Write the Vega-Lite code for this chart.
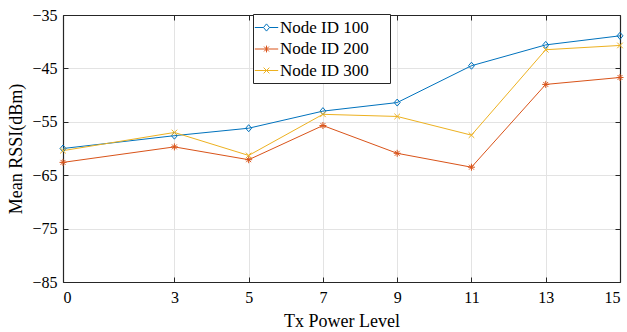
{
  "$schema": "https://vega.github.io/schema/vega-lite/v6.json",
  "width": 557,
  "height": 267,
  "autosize": "none",
  "padding": {"left": 63, "top": 15, "right": 7, "bottom": 50},
  "config": {
    "font": "Liberation Serif",
    "view": {"stroke": null},
    "axis": {
      "labelFont": "Liberation Serif",
      "titleFont": "Liberation Serif",
      "labelColor": "#000000",
      "titleColor": "#000000",
      "labelFontSize": 16,
      "titleFontSize": 18,
      "titleFontWeight": "normal",
      "domainColor": "#262626",
      "tickColor": "#262626",
      "domainWidth": 1.2,
      "gridColor": "#e3e3e3",
      "gridWidth": 1
    }
  },
  "datasets": {
    "rssi": [
      {"level": 0, "node": "Node ID 100", "rssi": -60.0},
      {"level": 3, "node": "Node ID 100", "rssi": -57.6},
      {"level": 5, "node": "Node ID 100", "rssi": -56.2},
      {"level": 7, "node": "Node ID 100", "rssi": -53.0},
      {"level": 9, "node": "Node ID 100", "rssi": -51.4},
      {"level": 11, "node": "Node ID 100", "rssi": -44.5},
      {"level": 13, "node": "Node ID 100", "rssi": -40.6},
      {"level": 15, "node": "Node ID 100", "rssi": -38.9},
      {"level": 0, "node": "Node ID 200", "rssi": -62.6},
      {"level": 3, "node": "Node ID 200", "rssi": -59.7},
      {"level": 5, "node": "Node ID 200", "rssi": -62.1},
      {"level": 7, "node": "Node ID 200", "rssi": -55.7},
      {"level": 9, "node": "Node ID 200", "rssi": -60.9},
      {"level": 11, "node": "Node ID 200", "rssi": -63.5},
      {"level": 13, "node": "Node ID 200", "rssi": -48.0},
      {"level": 15, "node": "Node ID 200", "rssi": -46.7},
      {"level": 0, "node": "Node ID 300", "rssi": -60.4},
      {"level": 3, "node": "Node ID 300", "rssi": -57.0},
      {"level": 5, "node": "Node ID 300", "rssi": -61.3},
      {"level": 7, "node": "Node ID 300", "rssi": -53.6},
      {"level": 9, "node": "Node ID 300", "rssi": -54.0},
      {"level": 11, "node": "Node ID 300", "rssi": -57.5},
      {"level": 13, "node": "Node ID 300", "rssi": -41.5},
      {"level": 15, "node": "Node ID 300", "rssi": -40.7}
    ]
  },
  "data": {"name": "rssi"},
  "resolve": {"axis": {"x": "independent", "y": "independent"}},
  "layer": [
    {
      "mark": {"type": "line", "strokeWidth": 1},
      "encoding": {
        "x": {
          "field": "level", "type": "quantitative",
          "scale": {"domain": [0, 15], "nice": false, "zero": false},
          "axis": {
            "title": "Tx Power Level",
            "values": [0, 3, 5, 7, 9, 11, 13, 15],
            "tickSize": -5,
            "labelPadding": 12,
            "titlePadding": 7,
            "grid": true
          }
        },
        "y": {
          "field": "rssi", "type": "quantitative",
          "scale": {"domain": [-85, -35], "nice": false, "zero": false},
          "axis": {
            "title": "Mean RSSI(dBm)",
            "values": [-85, -75, -65, -55, -45, -35],
            "tickSize": -5,
            "labelPadding": 11,
            "titlePadding": 6,
            "grid": true
          }
        },
        "color": {
          "field": "node", "type": "nominal",
          "scale": {
            "domain": ["Node ID 100", "Node ID 200", "Node ID 300"],
            "range": ["#0072BD", "#D95319", "#EDB120"]
          },
          "legend": {
            "title": null,
            "orient": "none",
            "legendX": 190,
            "legendY": -1,
            "direction": "vertical",
            "fillColor": "#ffffff",
            "strokeColor": "#262626",
            "padding": 4,
            "rowPadding": 3.5,
            "labelFont": "Liberation Serif",
            "labelFontSize": 17,
            "labelColor": "#000000",
            "labelOffset": 4,
            "labelExpr": "datum.label + '\u00a0\u2800'",
            "symbolSize": 324,
            "symbolStrokeWidth": 1,
            "encode": {
              "symbols": {
                "update": {
                  "shape": {"signal": "datum.value === 'Node ID 100' ? 'M-1.3,0L-0.33,0M0.33,0L1.3,0M0,-0.4L0.33,0L0,0.4L-0.33,0Z' : datum.value === 'Node ID 200' ? 'M-1.3,0L1.3,0M0,-0.38L0,0.38M-0.27,-0.27L0.27,0.27M-0.27,0.27L0.27,-0.27' : 'M-1.3,0L1.3,0M-0.32,-0.32L0.32,0.32M-0.32,0.32L0.32,-0.32'"},
                  "fill": {"value": "transparent"},
                  "strokeWidth": {"value": 1}
                }
              }
            }
          }
        }
      }
    },
    {
      "transform": [{"filter": "datum.node === 'Node ID 100'"}],
      "mark": {"type": "point", "filled": false, "strokeWidth": 1, "size": 49, "opacity": 1, "color": "#0072BD", "shape": "M0,-1L0.85,0L0,1L-0.85,0Z"},
      "encoding": {
        "x": {
          "field": "level", "type": "quantitative",
          "axis": {"orient": "top", "title": null, "labels": false, "grid": false, "values": [0, 3, 5, 7, 9, 11, 13, 15], "tickSize": -5}
        },
        "y": {
          "field": "rssi", "type": "quantitative",
          "axis": {"orient": "right", "title": null, "labels": false, "grid": false, "values": [-85, -75, -65, -55, -45, -35], "tickSize": -5}
        }
      }
    },
    {
      "transform": [{"filter": "datum.node === 'Node ID 200'"}],
      "mark": {"type": "point", "filled": false, "strokeWidth": 1, "size": 49, "opacity": 1, "color": "#D95319", "shape": "M-1,0L1,0M0,-1L0,1M-0.7,-0.7L0.7,0.7M-0.7,0.7L0.7,-0.7"},
      "encoding": {
        "x": {"field": "level", "type": "quantitative", "axis": null},
        "y": {"field": "rssi", "type": "quantitative", "axis": null}
      }
    },
    {
      "transform": [{"filter": "datum.node === 'Node ID 300'"}],
      "mark": {"type": "point", "filled": false, "strokeWidth": 1, "size": 49, "opacity": 1, "color": "#EDB120", "shape": "M-0.8,-0.8L0.8,0.8M-0.8,0.8L0.8,-0.8"},
      "encoding": {
        "x": {"field": "level", "type": "quantitative", "axis": null},
        "y": {"field": "rssi", "type": "quantitative", "axis": null}
      }
    }
  ]
}
